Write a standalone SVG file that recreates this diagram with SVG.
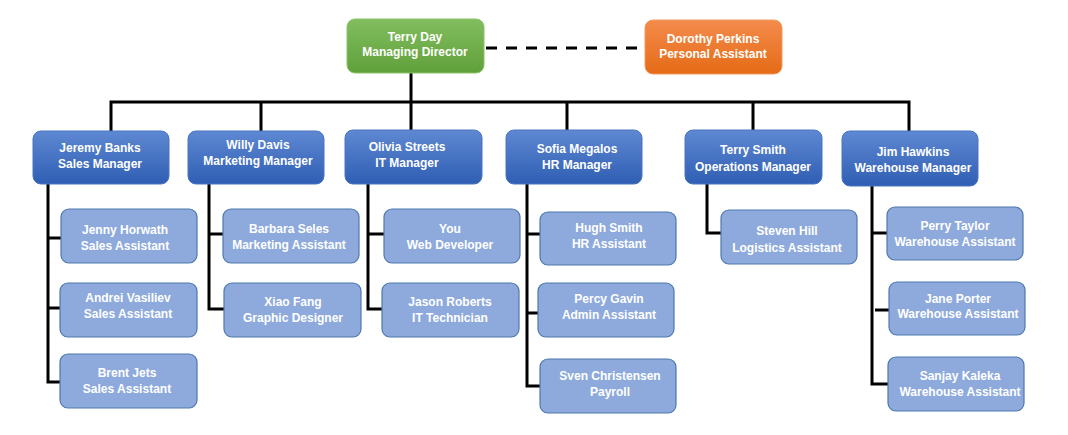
<svg xmlns="http://www.w3.org/2000/svg" width="1068" height="435" viewBox="0 0 1068 435">
<defs>
<linearGradient id="gBlue" x1="0" y1="0" x2="0" y2="1"><stop offset="0" stop-color="#5e88d2"/><stop offset="1" stop-color="#2f5eb3"/></linearGradient>
<linearGradient id="gGreen" x1="0" y1="0" x2="0" y2="1"><stop offset="0" stop-color="#82bd5f"/><stop offset="1" stop-color="#60a03a"/></linearGradient>
<linearGradient id="gOrange" x1="0" y1="0" x2="0" y2="1"><stop offset="0" stop-color="#f48b4c"/><stop offset="1" stop-color="#e56b16"/></linearGradient>
<style>
.mgr{fill:url(#gBlue);stroke:#4a74c2;stroke-width:1}
.ast{fill:#8eaadc;stroke:#4e79ae;stroke-width:1.2}
.md{fill:url(#gGreen);stroke:#8cc36a;stroke-width:1}
.pa{fill:url(#gOrange);stroke:#f09a60;stroke-width:1}
text{font-family:"Liberation Sans",Arial,sans-serif;font-weight:bold;font-size:12px;fill:#ffffff;text-anchor:middle}
.ln{stroke:#000;stroke-width:3;fill:none}
.dash{stroke:#000;stroke-width:3;fill:none;stroke-dasharray:11 9}
</style>
</defs>
<rect width="1068" height="435" fill="#ffffff"/>
<g id="connectors">
<line class="dash" x1="486" y1="48" x2="645" y2="48"/>
<line class="ln" x1="411" y1="73" x2="411" y2="130"/>
<polyline class="ln" points="111,131 111,102 909,102 909,131"/>
<line class="ln" x1="261" y1="102" x2="261" y2="131"/>
<line class="ln" x1="567" y1="102" x2="567" y2="131"/>
<line class="ln" x1="753" y1="102" x2="753" y2="130"/>
<polyline class="ln" points="48,184 48,382 61,382"/>
<line class="ln" x1="48" y1="238" x2="61" y2="238"/>
<line class="ln" x1="48" y1="308" x2="60" y2="308"/>
<polyline class="ln" points="209,184 209,309 224,309"/>
<line class="ln" x1="209" y1="234" x2="223" y2="234"/>
<polyline class="ln" points="368,184 368,309 382,309"/>
<line class="ln" x1="368" y1="234" x2="384" y2="234"/>
<polyline class="ln" points="527,184 527,386 540,386"/>
<line class="ln" x1="527" y1="234" x2="540" y2="234"/>
<line class="ln" x1="527" y1="313" x2="538" y2="313"/>
<polyline class="ln" points="707,184 707,233 721,233"/>
<polyline class="ln" points="872,186 872,384 888,384"/>
<line class="ln" x1="872" y1="233" x2="887" y2="233"/>
<line class="ln" x1="875" y1="310" x2="889" y2="310"/>
</g>
<g id="terry-day"><rect class="md" x="347" y="19" width="137" height="54" rx="8"/><text x="415" y="41">Terry Day</text><text x="415" y="56">Managing Director</text></g>
<g id="dorothy-perkins"><rect class="pa" x="645" y="20" width="137" height="54" rx="8"/><text x="713" y="43">Dorothy Perkins</text><text x="713" y="58">Personal Assistant</text></g>
<g id="jeremy-banks"><rect class="mgr" x="33" y="131" width="136" height="53" rx="8"/><text x="100" y="152">Jeremy Banks</text><text x="100" y="168">Sales Manager</text></g>
<g id="willy-davis"><rect class="mgr" x="188" y="131" width="136" height="53" rx="8"/><text x="258" y="149">Willy Davis</text><text x="258" y="165">Marketing Manager</text></g>
<g id="olivia-streets"><rect class="mgr" x="345" y="130" width="137" height="54" rx="8"/><text x="407" y="151">Olivia Streets</text><text x="407" y="167">IT Manager</text></g>
<g id="sofia-megalos"><rect class="mgr" x="506" y="130" width="136" height="54" rx="8"/><text x="577" y="153">Sofia Megalos</text><text x="577" y="169">HR Manager</text></g>
<g id="terry-smith"><rect class="mgr" x="685" y="130" width="137" height="54" rx="8"/><text x="753" y="154">Terry Smith</text><text x="753" y="171">Operations Manager</text></g>
<g id="jim-hawkins"><rect class="mgr" x="842" y="131" width="136" height="55" rx="8"/><text x="913" y="156">Jim Hawkins</text><text x="913" y="172">Warehouse Manager</text></g>
<g id="jenny-horwath"><rect class="ast" x="61" y="209" width="136" height="54" rx="8"/><text x="125" y="234">Jenny Horwath</text><text x="125" y="250">Sales Assistant</text></g>
<g id="andrei-vasiliev"><rect class="ast" x="60" y="283" width="137" height="54" rx="8"/><text x="128" y="302">Andrei Vasiliev</text><text x="128" y="318">Sales Assistant</text></g>
<g id="brent-jets"><rect class="ast" x="60" y="354" width="137" height="54" rx="8"/><text x="127" y="377">Brent Jets</text><text x="127" y="393">Sales Assistant</text></g>
<g id="barbara-seles"><rect class="ast" x="223" y="209" width="136" height="54" rx="8"/><text x="289" y="233">Barbara Seles</text><text x="289" y="249">Marketing Assistant</text></g>
<g id="xiao-fang"><rect class="ast" x="224" y="283" width="137" height="54" rx="8"/><text x="293" y="306">Xiao Fang</text><text x="293" y="322">Graphic Designer</text></g>
<g id="you"><rect class="ast" x="384" y="209" width="136" height="54" rx="8"/><text x="450" y="233">You</text><text x="450" y="249">Web Developer</text></g>
<g id="jason-roberts"><rect class="ast" x="382" y="283" width="137" height="54" rx="8"/><text x="450" y="306">Jason Roberts</text><text x="450" y="322">IT Technician</text></g>
<g id="hugh-smith"><rect class="ast" x="540" y="212" width="136" height="53" rx="8"/><text x="609" y="232">Hugh Smith</text><text x="609" y="248">HR Assistant</text></g>
<g id="percy-gavin"><rect class="ast" x="538" y="283" width="136" height="54" rx="8"/><text x="609" y="303">Percy Gavin</text><text x="609" y="319">Admin Assistant</text></g>
<g id="sven-christensen"><rect class="ast" x="540" y="359" width="136" height="54" rx="8"/><text x="610" y="380">Sven Christensen</text><text x="610" y="396">Payroll</text></g>
<g id="steven-hill"><rect class="ast" x="721" y="210" width="136" height="54" rx="8"/><text x="787" y="235">Steven Hill</text><text x="787" y="252">Logistics Assistant</text></g>
<g id="perry-taylor"><rect class="ast" x="887" y="207" width="136" height="53" rx="8"/><text x="955" y="230">Perry Taylor</text><text x="955" y="246">Warehouse Assistant</text></g>
<g id="jane-porter"><rect class="ast" x="889" y="282" width="136" height="53" rx="8"/><text x="958" y="303">Jane Porter</text><text x="958" y="318">Warehouse Assistant</text></g>
<g id="sanjay-kaleka"><rect class="ast" x="888" y="357" width="136" height="54" rx="8"/><text x="960" y="380">Sanjay Kaleka</text><text x="960" y="396">Warehouse Assistant</text></g>
</svg>
